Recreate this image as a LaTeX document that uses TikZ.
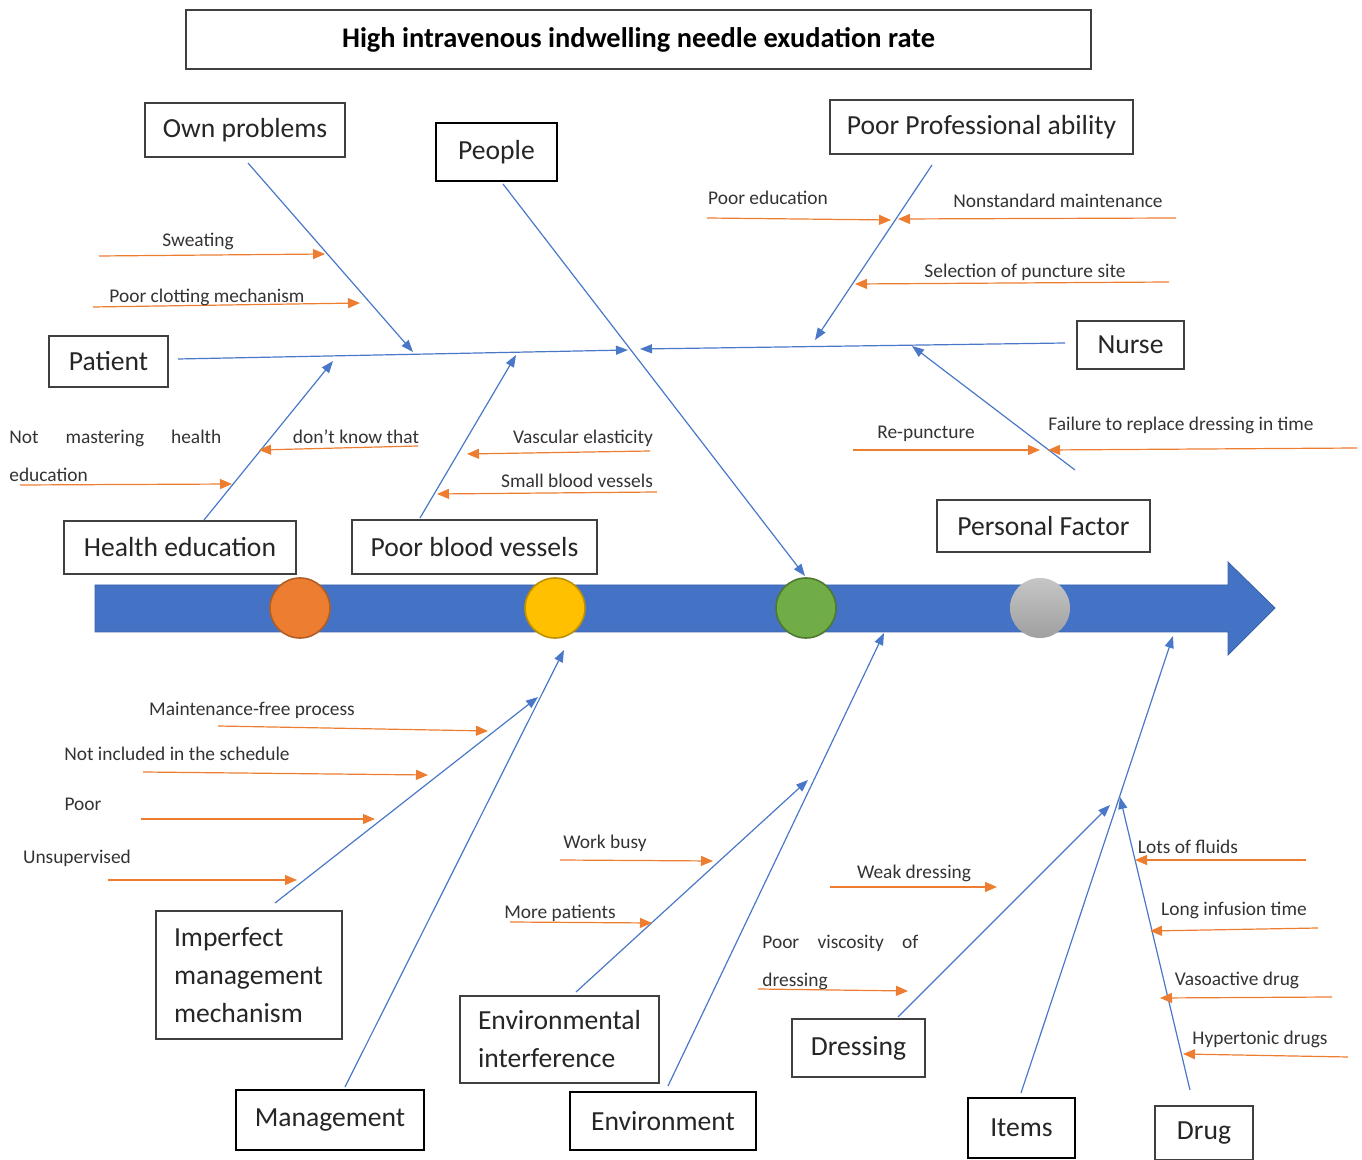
\documentclass[tikz,border=0pt]{standalone}
\usepackage{fontspec}
\setmainfont{Carlito}
\usepackage{xcolor}
\usetikzlibrary{arrows.meta}
\definecolor{spinecol}{HTML}{4472C4}
\definecolor{bonecol}{HTML}{4A78C8}
\definecolor{causecol}{HTML}{ED7D31}
\definecolor{dotyellow}{HTML}{FFC000}
\definecolor{dotgreen}{HTML}{70AD47}
\tikzset{
  box/.style={draw=black!75, line width=0.6pt, fill=white, text=black!85,
    font=\fontsize{13.8}{19}\selectfont, inner sep=0pt},
  thickbox/.style={box, draw=black, line width=1.1pt},
  bone/.style={draw=bonecol, line width=0.6pt, -{Triangle[length=6pt,width=4.5pt]}},
  cause/.style={draw=causecol, line width=0.6pt, -{Triangle[length=6pt,width=5pt]}},
  lab/.style={font=\fontsize{9.7}{19}\selectfont, text=black!80, inner sep=0pt},
  dot/.style={circle, minimum size=30pt, inner sep=0pt, line width=0.8pt},
}

\begin{document}
\begin{tikzpicture}[x=0.5pt,y=-0.5pt]
\useasboundingbox (0,0) rectangle (1362,1160);

% title
\node[box, minimum width=452.5pt, minimum height=29.5pt, font=\fontsize{14.2}{16}\selectfont\bfseries, text=black]
  (title) at (638.5,39.5) {High intravenous indwelling needle exudation rate};

% spine
\fill[spinecol, draw=spinecol!85!black, line width=0.4pt]
  (95,585) -- (1228,585) -- (1228,562) -- (1275,608) -- (1228,655) -- (1228,632) -- (95,632) -- cycle;
\node[dot, fill=causecol, draw=causecol!75!black] (c1) at (300,608) {};
\node[dot, fill=dotyellow, draw=dotyellow!75!black] (c2) at (555,608) {};
\node[dot, fill=dotgreen, draw=dotgreen!70!black] (c3) at (806,608) {};
\node[dot, top color=gray!45, bottom color=gray!75, draw=none] (c4) at (1040,608) {};

% category boxes
\node[box, minimum width=100pt, minimum height=27pt] (ownp) at (245,130) {Own problems};
\node[thickbox, minimum width=60.5pt, minimum height=29pt] (people) at (496.5,152) {People};
\node[box, minimum width=151.5pt, minimum height=27pt] (ppa) at (981.5,127) {Poor Professional ability};
\node[box, minimum width=59.5pt, minimum height=25.5pt] (patient) at (108.5,361.5) {Patient};
\node[box, minimum width=53.5pt, minimum height=24pt] (nurse) at (1130.5,345) {Nurse};
\node[box, minimum width=116pt, minimum height=26.5pt] (healthedu) at (180,547.5) {Health education};
\node[box, minimum width=122.5pt, minimum height=27pt] (poorbv) at (474.5,547) {Poor blood vessels};
\node[box, minimum width=106.5pt, minimum height=26pt] (persf) at (1043.5,526) {Personal Factor};
\node[box, minimum width=93pt, minimum height=64pt, text width=75pt, align=left] (imperfect) at (249,975)
  {Imperfect\\management\\mechanism};
\node[box, minimum width=99.5pt, minimum height=43.5pt, text width=81.5pt, align=left] (envint) at (559.5,1039.5)
  {Environmental\\interference};
\node[thickbox, minimum width=94pt, minimum height=30pt] (mgmt) at (330,1120) {Management};
\node[thickbox, minimum width=93pt, minimum height=29pt] (env) at (663,1121) {Environment};
\node[box, minimum width=66.5pt, minimum height=29pt] (dressing) at (858.5,1048) {Dressing};
\node[thickbox, minimum width=53.5pt, minimum height=30pt] (items) at (1021.5,1128) {Items};
\node[box, minimum width=49pt, minimum height=27pt] (drug) at (1204,1133) {Drug};

% blue bones
\foreach \sx/\sy/\ex/\ey [count=\i] in {
    178/359/628/350, 1065/343/640/349,
    248/163/413/352, 204/520/333/361, 420/518/516/355,
    503/184/805/576, 932/165/815/340, 1075/470/912/346,
    345/1087/564/650, 275/903/538/697, 668/1086/884/633,
    576/992/808/780, 1021/1093/1173/636, 898/1017/1110/805,
    1190/1090/1120/797} {
  \coordinate (b\i s) at (\sx,\sy);
  \coordinate (b\i e) at (\ex,\ey);
  \draw[bone] (b\i s) -- (b\i e);
}

% orange causes
\foreach \sx/\sy/\ex/\ey/\lx/\ly/\txt [count=\i] in {
    99/256/325/254/198/241/{Sweating},
    93/307/360/303/207/297/{Poor clotting mechanism},
    418/446/259/450/356/437/{don't know that},
    650/451/467/454/583/438/{Vascular elasticity},
    657/492/437/494/577/481/{Small blood vessels},
    707/218/891/220/768/198/{Poor education},
    1176/218/898/219/1058/201/{Nonstandard maintenance},
    1169/282/855/284/1025/272/{Selection of puncture site},
    853/450/1040/450/926/434/{Re-puncture},
    1357/448/1048/450/1181/425/{Failure to replace dressing in time},
    218/726/488/731/252/710/{Maintenance-free process},
    143/772/428/775/177/754/{Not included in the schedule},
    141/819/375/819/83/804/{Poor},
    108/880/297/880/77/858/{Unsupervised},
    560/860/713/861/605/843/{Work busy},
    510/922/652/923/560/913/{More patients},
    830/887/997/887/914/873/{Weak dressing},
    1306/860/1135/860/1188/847/{Lots of fluids},
    1318/928/1150/931/1234/910/{Long infusion time},
    1332/997/1160/998/1237/980/{Vasoactive drug},
    1348/1057/1183/1054/1260/1039/{Hypertonic drugs}} {
  \coordinate (o\i s) at (\sx,\sy);
  \coordinate (o\i e) at (\ex,\ey);
  \draw[cause] (o\i s) -- (o\i e);
  \node[lab] (l\i) at (\lx,\ly) {\txt};
}

% two-line causes
\coordinate (nm s) at (20,485);
\coordinate (nm e) at (232,484);
\draw[cause] (nm s) -- (nm e);
\node[lab, anchor=west, align=left] (notmast) at (9,456)
  {\makebox[106pt][s]{Not mastering health}\\education};
\coordinate (pv s) at (758,989);
\coordinate (pv e) at (908,991);
\draw[cause] (pv s) -- (pv e);
\node[lab, anchor=west, align=left] (poorvisc) at (762,962)
  {\makebox[78pt][s]{Poor viscosity of}\\dressing};

\end{tikzpicture}
\end{document}
